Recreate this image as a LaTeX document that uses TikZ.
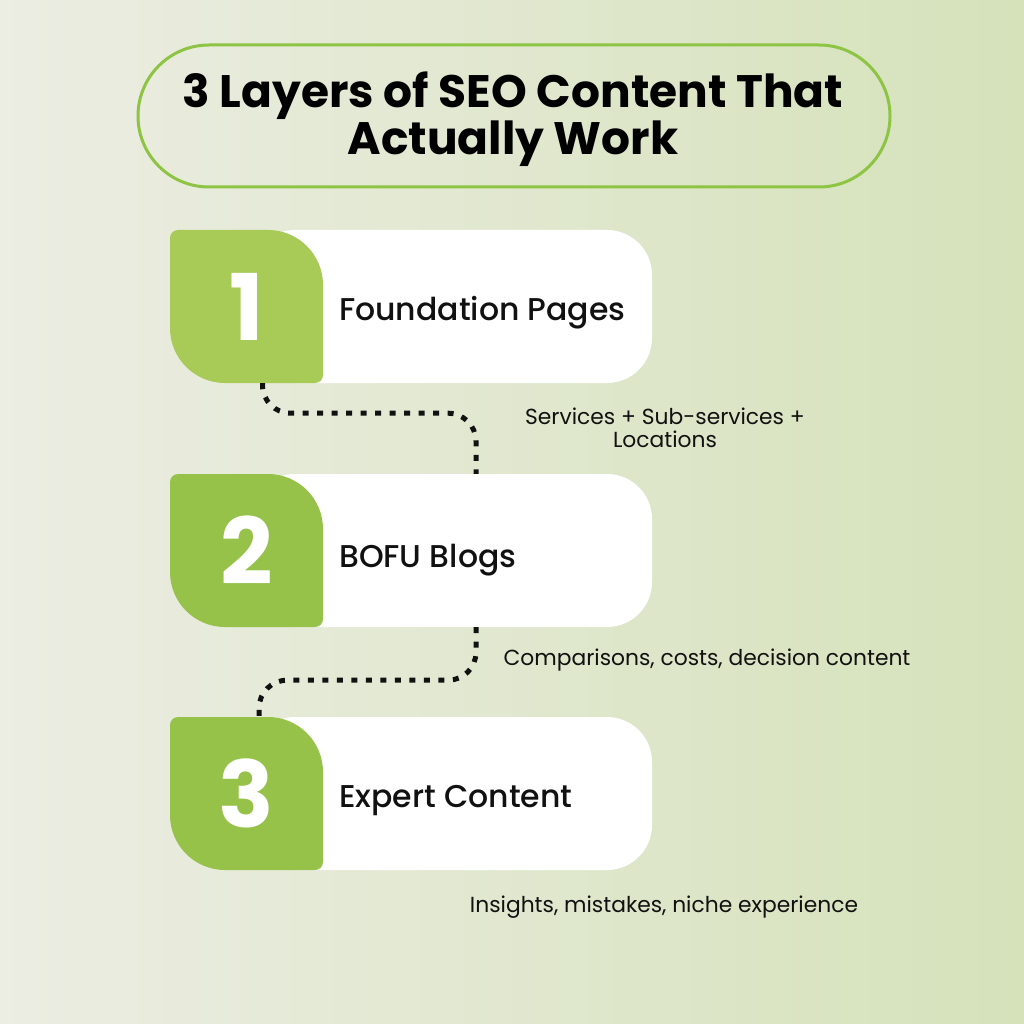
\documentclass[tikz,border=0pt]{standalone}
\usepackage{fontspec}
\setmainfont{Poppins}
\newfontfamily\titlefont{Poppins Bold}
\newfontfamily\labelfont{Poppins Medium}
\newfontfamily\numfont{Poppins Bold}
\definecolor{bgL}{HTML}{ECEDE3}
\definecolor{bgR}{HTML}{D5E2BA}
\definecolor{pillc}{HTML}{8DC443}
\definecolor{gA}{HTML}{A8CA57}
\definecolor{gB}{HTML}{96C24A}
\definecolor{ink}{HTML}{111111}
\newcommand\greentile[3]{%
  \begin{scope}[shift={(#1,#2)}]
    \fill[#3] (0,8) .. controls (0,3.6) and (3.6,0) .. (8,0) -- (98,0)
      .. controls (128.4,0) and (153,24.6) .. (153,55) -- (153,145)
      .. controls (153,149.4) and (149.4,153) .. (145,153) -- (55,153)
      .. controls (24.6,153) and (0,128.4) .. (0,98) -- cycle;
  \end{scope}}
\begin{document}
\begin{tikzpicture}[x=1pt,y=-1pt,
  card/.style={fill=white, rounded corners=45pt, minimum width=402pt, minimum height=153pt, inner sep=0pt},
  numtile/.style={minimum width=153pt, minimum height=153pt, inner sep=0pt, text=white, font=\numfont\fontsize{92}{92}\selectfont},
  lbl/.style={anchor=base west, inner sep=0pt, text=ink, font=\labelfont\fontsize{31.5}{31.5}\selectfont},
  note/.style={anchor=base, inner sep=0pt, text=ink, align=center, font=\fontsize{21.8}{23}\selectfont},
  conn/.style={draw=ink, line width=5pt, dash pattern=on 6pt off 8.5pt, rounded corners=28pt}]
\useasboundingbox (0,0) rectangle (1024,1024);
\shade[left color=bgL, right color=bgR] (0,0) rectangle (1024,1024);
% title
\node[draw=pillc, line width=3pt, rounded corners=71pt, minimum width=752pt, minimum height=142pt] (title) at (514,116) {};
\node[align=center, text=black, font=\titlefont\fontsize{45.5}{43}\selectfont] (ttext) at (513,119)
  {3 Layers of SEO Content That\\Actually Work};
% cards
\node[card] (card1) at (451,306.5) {};
\node[card] (card2) at (451,550.5) {};
\node[card] (card3) at (451,793.5) {};
\greentile{170}{230}{gA}
\greentile{170}{474}{gB}
\greentile{170}{717}{gB}
\node[numtile] (n1) at (246.5,306.5) {1};
\node[numtile] (n2) at (246.5,550.5) {2};
\node[numtile] (n3) at (246.5,793.5) {3};
\node[lbl] (l1) at (339,320) {Foundation Pages};
\node[lbl] (l2) at (339,567) {BOFU Blogs};
\node[lbl] (l3) at (339,807) {Expert Content};
% connectors
\draw[conn] ([xshift=16pt]n1.south) -- ++(0,30) -| ([xshift=25pt]card2.north);
\draw[conn] ([xshift=25pt]card2.south) -- ++(0,53) -| ([xshift=12.5pt]n3.north);
% notes
\node[note] (s1) at (665,447) {Services + Sub-services +\\Locations};
\node[note] (s2) at (707,665) {Comparisons, costs, decision content};
\node[note] (s3) at (664,912) {Insights, mistakes, niche experience};
\end{tikzpicture}
\end{document}
